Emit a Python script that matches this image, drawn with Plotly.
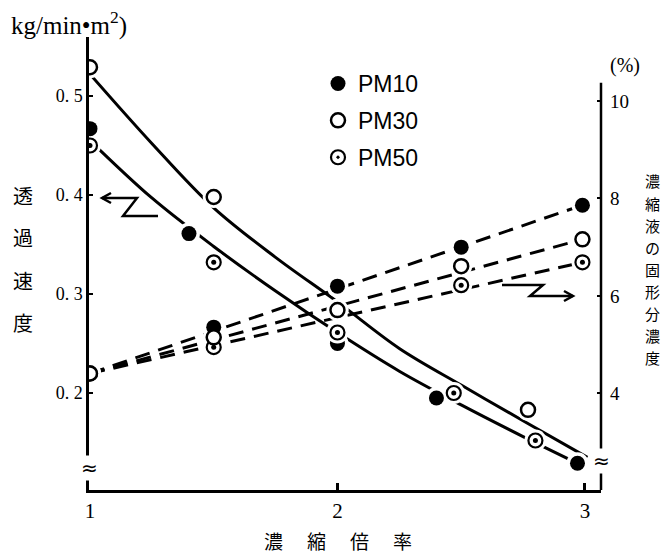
import plotly.graph_objects as go

# ---------------- data ----------------
# permeation flux (left axis, kg/min·m2)
ratio_pm10_flux = [1.0, 1.4, 2.0, 2.4, 2.97]
flux_pm10 = [0.467, 0.361, 0.250, 0.195, 0.129]
ratio_pm30_flux = [1.0, 1.5, 2.0, 2.77]
flux_pm30 = [0.529, 0.398, 0.284, 0.183]
ratio_pm50_flux = [1.0, 1.5, 2.0, 2.47, 2.8]
flux_pm50 = [0.450, 0.332, 0.262, 0.200, 0.152]

# solids concentration of concentrate (right axis, %)
ratio_conc = [1.0, 1.5, 2.0, 2.5, 2.99]
conc_pm10 = [4.41, 5.36, 6.20, 7.00, 7.86]
conc_pm30 = [4.41, 5.15, 5.71, 6.61, 7.16]
conc_pm50 = [4.41, 4.95, 5.25, 6.22, 6.69]

# drawn trend curves (solid, flux)
curve_x_upper = [1.0, 1.25, 1.5, 1.75, 2.0, 2.25, 2.5, 2.75, 3.01]
curve_upper = [0.522, 0.452, 0.387, 0.337, 0.292, 0.245, 0.208, 0.172, 0.135]
curve_x_lower = [1.0, 1.25, 1.5, 1.75, 2.0, 2.25, 2.5, 2.75, 2.97]
curve_lower = [0.455, 0.397, 0.348, 0.303, 0.261, 0.222, 0.188, 0.156, 0.129]

# drawn trend lines (dashed, concentration)
line_x_conc = [1.0, 2.99]
line_pm10 = [4.41, 7.86]
line_pm30 = [4.41, 7.16]
line_pm50 = [4.41, 6.69]

left_ticks = [0.2, 0.3, 0.4, 0.5]
left_ticktext = ["0. 2", "0. 3", "0. 4", "0. 5"]
right_ticks = [4, 6, 8, 10]
right_ticktext = ["4", "6", "8", "10"]
x_ticks = [1, 2, 3]
x_ticktext = ["1", "2", "3"]

left_title_chars = ["透", "過", "速", "度"]
right_title_chars = list("濃縮液の固形分濃度")
x_title_chars = ["濃", "縮", "倍", "率"]

# ---------------- layout geometry ----------------
W, H = 664, 555
L, R, T, B = 89, 63, 37, 65
PW, PH = W - L - R, H - T - B


def px(x, y):
    """canvas pixel -> paper fraction"""
    return (x - L) / PW, (H - B - y) / PH


SERIF = "Liberation Serif"
CJK = "Noto Sans CJK JP"
BLACK = "black"

fig = go.Figure()

# solid curves (flux)
fig.add_trace(go.Scatter(x=curve_x_upper, y=curve_upper, mode="lines",
                         line=dict(color=BLACK, width=3, shape="spline"),
                         showlegend=False, hoverinfo="skip"))
fig.add_trace(go.Scatter(x=curve_x_lower, y=curve_lower, mode="lines",
                         line=dict(color=BLACK, width=3, shape="spline"),
                         showlegend=False, hoverinfo="skip"))
# dashed lines (concentration)
for ly in (line_pm10, line_pm30, line_pm50):
    fig.add_trace(go.Scatter(x=line_x_conc, y=ly, mode="lines", yaxis="y2",
                             line=dict(color=BLACK, width=3, dash="15px,9px"),
                             showlegend=False, hoverinfo="skip"))

# white halos that break the lines around markers
for xs, ys, ax in [(ratio_pm10_flux, flux_pm10, "y"), (ratio_pm30_flux, flux_pm30, "y"),
                   (ratio_pm50_flux, flux_pm50, "y"), (ratio_conc, conc_pm10, "y2"),
                   (ratio_conc, conc_pm30, "y2"), (ratio_conc, conc_pm50, "y2")]:
    fig.add_trace(go.Scatter(x=xs, y=ys, mode="markers", yaxis=ax,
                             marker=dict(symbol="circle", size=22, color="white"),
                             showlegend=False, hoverinfo="skip"))

m10 = dict(symbol="circle", size=15, color=BLACK, line=dict(color=BLACK, width=0))
m30 = dict(symbol="circle", size=14, color="white", line=dict(color=BLACK, width=2.5))
m50 = dict(symbol="circle-dot", size=14, color="white", line=dict(color=BLACK, width=2.2))
dot = dict(symbol="circle", size=5, color=BLACK)

# concentration markers
fig.add_trace(go.Scatter(x=ratio_conc, y=conc_pm10, mode="markers", yaxis="y2",
                         marker=m10, showlegend=False))
fig.add_trace(go.Scatter(x=ratio_conc, y=conc_pm50, mode="markers", yaxis="y2",
                         marker=m50, showlegend=False))
fig.add_trace(go.Scatter(x=ratio_conc[1:], y=conc_pm50[1:], mode="markers", yaxis="y2",
                         marker=dot, showlegend=False, hoverinfo="skip"))
fig.add_trace(go.Scatter(x=ratio_conc, y=conc_pm30, mode="markers", yaxis="y2",
                         marker=m30, showlegend=False))

# flux markers (legend)
fig.add_trace(go.Scatter(x=ratio_pm10_flux, y=flux_pm10, mode="markers", name="PM10",
                         marker=m10, legendgroup="a"))
fig.add_trace(go.Scatter(x=ratio_pm30_flux, y=flux_pm30, mode="markers", name="PM30",
                         marker=m30, legendgroup="b"))
fig.add_trace(go.Scatter(x=ratio_pm50_flux, y=flux_pm50, mode="markers", name="PM50",
                         marker=m50, legendgroup="c"))
fig.add_trace(go.Scatter(x=ratio_pm50_flux, y=flux_pm50, mode="markers",
                         marker=dot, showlegend=False, hoverinfo="skip"))

# ---------------- annotations ----------------
ann = []


def text(x, y, s, size, family, xanchor="center", yanchor="middle"):
    fx, fy = px(x, y)
    ann.append(dict(x=fx, y=fy, xref="paper", yref="paper", text=s, showarrow=False,
                    font=dict(family=family, size=size, color=BLACK),
                    xanchor=xanchor, yanchor=yanchor))


text(9, 23, "kg/min•m<sup>2</sup>)", 25, SERIF, xanchor="left")
text(625, 65, "(%)", 20, SERIF)
for i, c in enumerate(left_title_chars):
    text(23, 195 + 42.5 * i, c, 20, CJK)
for i, c in enumerate(right_title_chars):
    text(652, 181 + 22 * i, c, 15, CJK)
for i, c in enumerate(x_title_chars):
    text(273 + 43 * i, 540, c, 19, CJK)

# axis break marks
for bx, by in [(89, 468), (601, 461)]:
    fx, fy = px(bx, by)
    ann.append(dict(x=fx, y=fy, xref="paper", yref="paper", text="≈", showarrow=False,
                    xanchor="center", yanchor="middle",
                    font=dict(family="DejaVu Sans", size=20, color=BLACK),
                    bgcolor="white", borderpad=0))

fig.update_layout(annotations=ann)


def path(points):
    s = ""
    for i, (x, y) in enumerate(points):
        fx, fy = px(x, y)
        s += ("M" if i == 0 else "L") + f"{fx:.5f},{fy:.5f} "
    return s


shapes = [
    # left "Z" arrow
    dict(type="path", xref="paper", yref="paper",
         path=path([(102, 198), (137, 198), (123, 216), (158, 216)]),
         line=dict(color=BLACK, width=2.5)),
    dict(type="path", xref="paper", yref="paper",
         path=path([(111, 193), (102, 198), (111, 203)]),
         line=dict(color=BLACK, width=2.5)),
    # right "Z" arrow
    dict(type="path", xref="paper", yref="paper",
         path=path([(502, 285), (543, 285), (530, 296), (573, 296)]),
         line=dict(color=BLACK, width=2.5)),
    dict(type="path", xref="paper", yref="paper",
         path=path([(564, 291), (573, 296), (564, 301)]),
         line=dict(color=BLACK, width=2.5)),
    # right axis line (shorter than the plot height)
    dict(type="line", xref="paper", yref="y2", x0=1, x1=1, y0=2.0, y1=10.37,
         line=dict(color=BLACK, width=2.5)),
]

fig.update_layout(
    width=W, height=H, autosize=False,
    margin=dict(l=L, r=R, t=T, b=B, pad=0),
    paper_bgcolor="white", plot_bgcolor="white",
    shapes=shapes,
    xaxis=dict(range=[0.996, 3.065], tickvals=x_ticks, ticktext=x_ticktext,
               showgrid=False, zeroline=False, showline=True, linecolor=BLACK, linewidth=2.5,
               ticks="inside", ticklen=7, tickwidth=2.5, tickcolor=BLACK,
               tickfont=dict(family=SERIF, size=21, color=BLACK), ticklabelstandoff=0),
    yaxis=dict(range=[0.102, 0.5596], tickvals=left_ticks, ticktext=left_ticktext,
               showgrid=False, zeroline=False, showline=True, linecolor=BLACK, linewidth=2.5,
               ticks="inside", ticklen=4, tickwidth=2, tickcolor=BLACK,
               tickfont=dict(family=SERIF, size=18, color=BLACK), ticklabelstandoff=0),
    yaxis2=dict(range=[2.02, 11.31], tickvals=right_ticks, ticktext=right_ticktext,
                overlaying="y", side="right", showgrid=False, zeroline=False, showline=False,
                ticks="inside", ticklen=4, tickwidth=2, tickcolor=BLACK,
                tickfont=dict(family=SERIF, size=19, color=BLACK), ticklabelstandoff=8),
    legend=dict(x=(318 - L) / PW, y=px(0, 62)[1], xanchor="left", yanchor="top",
                font=dict(family="Liberation Sans", size=23, color=BLACK),
                bgcolor="rgba(0,0,0,0)", tracegroupgap=4, traceorder="grouped",
                itemwidth=30),
    showlegend=True,
)

fig.write_html("out.html")
